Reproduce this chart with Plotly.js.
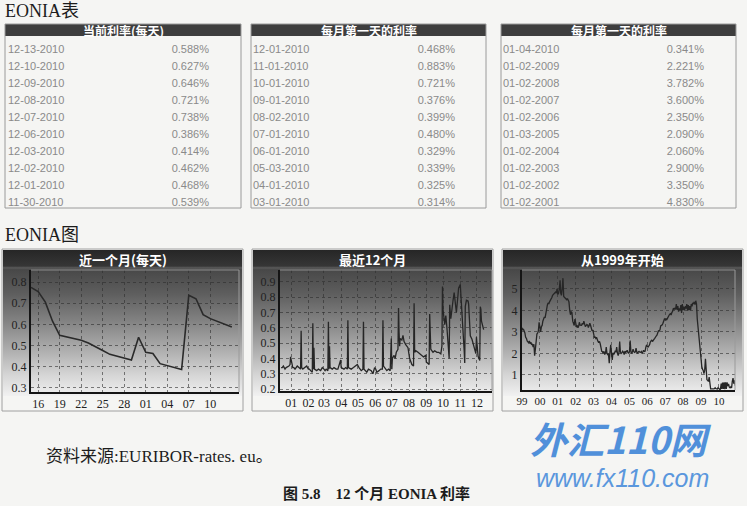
<!DOCTYPE html>
<html><head><meta charset="utf-8">
<script src="https://cdn.plot.ly/plotly-3.0.1.min.js"></script>
<style>html,body{margin:0;padding:0;background:#f5f5f3;}#chart{width:747px;height:506px;}</style>
</head><body><div id="chart"></div>
<script>
// ---------- table data ----------
const currentDates = ['12-13-2010','12-10-2010','12-09-2010','12-08-2010','12-07-2010','12-06-2010','12-03-2010','12-02-2010','12-01-2010','11-30-2010'];
const currentRates = [0.588,0.627,0.646,0.721,0.738,0.386,0.414,0.462,0.468,0.539];
const monthFirstDates = ['12-01-2010','11-01-2010','10-01-2010','09-01-2010','08-02-2010','07-01-2010','06-01-2010','05-03-2010','04-01-2010','03-01-2010'];
const monthFirstRates = [0.468,0.883,0.721,0.376,0.399,0.480,0.329,0.339,0.325,0.314];
const yearFirstDates = ['01-04-2010','01-02-2009','01-02-2008','01-02-2007','01-02-2006','01-03-2005','01-02-2004','01-02-2003','01-02-2002','01-02-2001'];
const yearFirstRates = [0.341,2.221,3.782,3.600,2.350,2.090,2.060,2.900,3.350,4.830];
const tableTitles = ['当前利率(每天)','每月第一天的利率','每月第一天的利率'];

// ---------- chart 1: last month (daily) ----------
const monthDates = ['2010-11-15','2010-11-16','2010-11-17','2010-11-18','2010-11-19','2010-11-22','2010-11-23','2010-11-24','2010-11-25','2010-11-26','2010-11-29','2010-11-30','2010-12-01','2010-12-02','2010-12-03','2010-12-06','2010-12-07','2010-12-08','2010-12-09','2010-12-10','2010-12-13'];
const monthRates = [0.775,0.755,0.705,0.615,0.548,0.525,0.512,0.492,0.476,0.458,0.431,0.539,0.468,0.462,0.414,0.386,0.738,0.721,0.646,0.627,0.588];
const monthTicks = ['2010-11-16','2010-11-19','2010-11-22','2010-11-25','2010-11-28','2010-12-01','2010-12-04','2010-12-07','2010-12-10'];

// ---------- chart 2: last 12 months ----------
const yearDates = [
'2009-12-14','2009-12-16','2009-12-18','2009-12-21','2009-12-23','2009-12-28','2009-12-30','2009-12-31',
'2010-01-04','2010-01-06','2010-01-08','2010-01-12','2010-01-15','2010-01-18','2010-01-19','2010-01-20','2010-01-22','2010-01-26','2010-01-29',
'2010-02-01','2010-02-03','2010-02-05','2010-02-08','2010-02-09','2010-02-10','2010-02-11','2010-02-12','2010-02-16','2010-02-19','2010-02-23','2010-02-26',
'2010-03-01','2010-03-03','2010-03-05','2010-03-08','2010-03-09','2010-03-10','2010-03-11','2010-03-12','2010-03-16','2010-03-19','2010-03-23','2010-03-26','2010-03-31',
'2010-04-01','2010-04-06','2010-04-09','2010-04-12','2010-04-13','2010-04-14','2010-04-19','2010-04-23','2010-04-27','2010-04-30',
'2010-05-03','2010-05-05','2010-05-07','2010-05-10','2010-05-11','2010-05-12','2010-05-17','2010-05-20','2010-05-25','2010-05-28','2010-05-31',
'2010-06-02','2010-06-04','2010-06-08','2010-06-11','2010-06-14','2010-06-15','2010-06-16','2010-06-18','2010-06-22','2010-06-25','2010-06-28','2010-06-30',
'2010-07-01','2010-07-02','2010-07-05','2010-07-07','2010-07-09','2010-07-12','2010-07-13','2010-07-14','2010-07-15','2010-07-16','2010-07-19','2010-07-21','2010-07-23','2010-07-26','2010-07-28','2010-07-30',
'2010-08-02','2010-08-04','2010-08-06','2010-08-09','2010-08-10','2010-08-11','2010-08-13','2010-08-17','2010-08-20','2010-08-24','2010-08-27','2010-08-31',
'2010-09-01','2010-09-03','2010-09-06','2010-09-07','2010-09-08','2010-09-09','2010-09-13','2010-09-16','2010-09-20','2010-09-23','2010-09-27','2010-09-29','2010-09-30',
'2010-10-01','2010-10-04','2010-10-06','2010-10-08','2010-10-11','2010-10-12','2010-10-13','2010-10-15','2010-10-19','2010-10-21','2010-10-25','2010-10-28','2010-10-29',
'2010-11-01','2010-11-03','2010-11-05','2010-11-08','2010-11-09','2010-11-10','2010-11-12','2010-11-15','2010-11-16','2010-11-17','2010-11-18','2010-11-19','2010-11-22','2010-11-23','2010-11-24','2010-11-25','2010-11-26','2010-11-29','2010-11-30',
'2010-12-01','2010-12-02','2010-12-03','2010-12-06','2010-12-07','2010-12-08','2010-12-09','2010-12-10','2010-12-13'];
const yearRates = [
0.34,0.34,0.35,0.33,0.34,0.35,0.36,0.41,
0.34,0.34,0.33,0.35,0.34,0.33,0.58,0.34,0.33,0.34,0.35,
0.33,0.33,0.32,0.31,0.63,0.33,0.47,0.33,0.32,0.33,0.32,0.34,
0.33,0.32,0.33,0.32,0.64,0.33,0.48,0.34,0.33,0.34,0.33,0.33,0.39,
0.34,0.33,0.34,0.33,0.65,0.34,0.33,0.34,0.35,0.36,
0.34,0.33,0.32,0.33,0.64,0.33,0.31,0.33,0.32,0.30,0.34,
0.33,0.31,0.32,0.33,0.33,0.65,0.35,0.34,0.32,0.33,0.32,0.53,
0.33,0.40,0.42,0.40,0.44,0.46,0.73,0.57,0.48,0.53,0.52,0.55,0.51,0.49,0.48,0.47,
0.399,0.38,0.36,0.35,0.76,0.44,0.45,0.44,0.43,0.42,0.41,0.42,
0.376,0.37,0.36,0.69,0.53,0.46,0.44,0.45,0.44,0.44,0.43,0.48,0.87,
0.721,0.62,0.68,0.60,0.45,0.40,0.75,0.66,0.78,0.83,0.70,0.82,0.86,
0.883,0.76,0.70,0.45,0.37,0.74,0.78,0.775,0.755,0.705,0.615,0.548,0.525,0.512,0.492,0.476,0.458,0.431,0.539,
0.468,0.462,0.414,0.386,0.738,0.721,0.646,0.627,0.588];

// ---------- chart 3: since 1999 (1st and 16th of each month) ----------
const longYears = [1999,2000,2001,2002,2003,2004,2005,2006,2007,2008,2009,2010];
const rates1999 = [3.19,3.10,3.12,3.05,2.95,2.75,2.70,2.58,2.55,2.50,2.58,2.45,2.52,2.40,2.44,2.30,2.43,1.90,2.20,2.60,2.90,2.95,3.05,3.45];
const rates2000 = [3.10,3.00,3.25,3.30,3.50,3.60,3.70,3.65,3.90,4.05,4.25,4.35,4.30,4.40,4.45,4.50,4.60,4.70,4.75,4.80,4.83,4.85,4.80,5.00];
const rates2001 = [4.75,4.80,5.00,5.40,4.80,4.70,5.05,5.50,4.65,4.60,4.55,4.50,4.50,4.55,4.45,4.40,4.00,3.80,3.95,3.90,3.50,3.40,3.30,3.60];
const rates2002 = [3.30,3.25,3.28,3.20,3.26,3.45,3.32,3.30,3.31,3.40,3.35,3.50,3.30,3.25,3.29,3.35,3.32,3.20,3.30,3.40,3.30,3.20,3.05,3.10];
const rates2003 = [2.80,2.75,2.76,2.70,2.75,2.60,2.56,2.50,2.56,2.45,2.21,2.10,2.08,2.00,2.10,1.95,2.02,2.30,2.01,1.95,1.97,1.55,2.06,2.40];
const rates2004 = [2.02,1.70,2.03,1.95,2.01,2.10,2.08,2.30,2.02,1.90,2.03,2.55,2.07,2.00,2.04,2.10,2.05,1.95,2.11,2.05,2.09,2.15,2.05,2.00];
const rates2005 = [2.08,2.60,2.06,2.00,2.06,2.20,2.08,2.05,2.07,2.25,2.06,2.00,2.07,2.10,2.06,2.05,2.09,2.00,2.07,2.15,2.09,2.10,2.28,2.40];
const rates2006 = [2.33,2.30,2.35,2.40,2.52,2.60,2.63,2.55,2.58,2.65,2.70,2.80,2.81,2.85,2.97,3.05,3.04,3.10,3.28,3.30,3.33,3.40,3.50,3.60];
const rates2007 = [3.56,3.60,3.57,3.65,3.69,3.80,3.82,3.85,3.79,3.90,3.96,4.10,4.06,4.10,4.05,4.30,4.03,4.20,3.94,4.10,4.02,4.25,3.88,4.30];
const rates2008 = [4.02,4.15,4.03,4.20,4.09,4.30,3.99,4.25,4.01,4.20,4.01,4.30,4.19,4.35,4.30,4.40,4.27,4.45,4.30,3.60,3.15,3.00,2.49,2.20];
const rates2009 = [1.81,1.40,1.26,1.20,1.06,1.20,1.75,0.80,0.78,0.75,0.70,0.90,0.36,0.35,0.35,0.34,0.36,0.35,0.36,0.40,0.36,0.34,0.35,0.41];
const rates2010 = [0.34,0.33,0.34,0.60,0.35,0.65,0.35,0.66,0.34,0.66,0.35,0.66,0.48,0.58,0.43,0.40,0.45,0.40,0.70,0.85,0.59,0.75,0.50,0.59];
const longRatesByYear = [rates1999,rates2000,rates2001,rates2002,rates2003,rates2004,rates2005,rates2006,rates2007,rates2008,rates2009,rates2010];

const longDates = [], longRates = [];
longYears.forEach((yr, i) => {
  for (let m = 0; m < 12; m++) {
    const mm = String(m + 1).padStart(2, '0');
    longDates.push(yr + '-' + mm + '-01'); longRates.push(longRatesByYear[i][2 * m]);
    longDates.push(yr + '-' + mm + '-16'); longRates.push(longRatesByYear[i][2 * m + 1]);
  }
});

// ---------- layout helpers ----------
const W = 747, H = 506;
const px = v => v / W;
const py = v => 1 - v / H;

const tableLefts = [5, 251, 501];
const tableRights = [241, 486, 736];
const tableTop = 24, tableBottom = 208, headerBottom = 36;

function tableTrace(dates, rates, left) {
  const x0 = Math.max(0, left - 6);
  return {
    type: 'table',
    domain: {x: [px(x0), px(left + 212)], y: [py(tableBottom), py(tableTop)]},
    columnwidth: [110, 108],
    header: {values: [[''], ['']], height: 13, fill: {color: 'rgba(0,0,0,0)'}, line: {color: 'rgba(0,0,0,0)', width: 0}},
    cells: {
      values: [dates, rates], format: ['', '.3f'], suffix: ['', '%'], align: ['left', 'right'], height: 17,
      fill: {color: 'rgba(0,0,0,0)'}, line: {color: 'rgba(0,0,0,0)', width: 0},
      font: {family: 'Liberation Sans, Arial, sans-serif', size: 11, color: '#8a8a8a'}
    }
  };
}

const panels = [[2, 243], [252, 493], [502, 743]];
const plots = [ // [left, right, top, bottom] in px
  [31, 239, 270, 392],
  [280, 492, 270, 391],
  [522, 735, 270, 390]
];
const chartTitles = ['近一个月(每天)', '最近12个月', '从1999年开始'];

const traces = [
  tableTrace(currentDates, currentRates, tableLefts[0]),
  tableTrace(monthFirstDates, monthFirstRates, tableLefts[1]),
  tableTrace(yearFirstDates, yearFirstRates, tableLefts[2]),
  {type: 'scatter', mode: 'lines', x: monthDates, y: monthRates, xaxis: 'x', yaxis: 'y', line: {color: '#2a2a2a', width: 1.6}, hoverinfo: 'skip'},
  {type: 'scatter', mode: 'lines', x: yearDates, y: yearRates, xaxis: 'x2', yaxis: 'y2', line: {color: '#262626', width: 1.3}, hoverinfo: 'skip'},
  {type: 'scatter', mode: 'lines', x: longDates, y: longRates, xaxis: 'x3', yaxis: 'y3', line: {color: '#262626', width: 1.3}, hoverinfo: 'skip'}
];

const axisFont = {family: 'Liberation Serif, DejaVu Serif, serif', size: 12, color: '#222'};
function baseAxis(domain, extra) {
  return Object.assign({
    domain: domain, showgrid: true, gridcolor: 'rgba(45,45,45,0.6)', griddash: 'dot', gridwidth: 1,
    showline: true, linecolor: '#151515', linewidth: 2, ticks: '', tickfont: axisFont,
    zeroline: false, fixedrange: true
  }, extra);
}
const xd = p => [px(p[0]), px(p[1])];
const yd = p => [py(p[3]), py(p[2])];

const layout = {
  width: W, height: H, margin: {l: 0, r: 0, t: 0, b: 0},
  paper_bgcolor: '#f5f5f3', plot_bgcolor: 'rgba(0,0,0,0)', showlegend: false,
  xaxis: baseAxis(xd(plots[0]), {type: 'date', anchor: 'y', range: ['2010-11-15', '2010-12-14'], tickvals: monthTicks, tickformat: '%d'}),
  yaxis: baseAxis(yd(plots[0]), {anchor: 'x', range: [0.28, 0.857], dtick: 0.1, tick0: 0, tickformat: '.1f'}),
  xaxis2: baseAxis(xd(plots[1]), {type: 'date', anchor: 'y2', range: ['2009-12-12', '2010-12-28'], dtick: 'M1', tick0: '2010-01-01', tickformat: '%m'}),
  yaxis2: baseAxis(yd(plots[1]), {anchor: 'x2', range: [0.187, 0.978], dtick: 0.1, tick0: 0, tickformat: '.1f'}),
  xaxis3: baseAxis(xd(plots[2]), {type: 'date', anchor: 'y3', range: ['1999-01-01', '2010-11-25'], dtick: 'M12', tick0: '1999-01-01', tickformat: '%y',
    tickfont: {family: 'Liberation Serif, DejaVu Serif, serif', size: 11, color: '#222'}}),
  yaxis3: baseAxis(yd(plots[2]), {anchor: 'x3', range: [0.3, 5.88], dtick: 1, tick0: 0, tickformat: 'd'}),
  images: [], shapes: [], annotations: []
};

// gradient backgrounds of the chart panels
const gradSvg = '<svg xmlns="http://www.w3.org/2000/svg" width="100" height="100" viewBox="0 0 100 100" preserveAspectRatio="none">' +
  '<defs><linearGradient id="g" x1="0" y1="0" x2="0" y2="1">' +
  '<stop offset="0" stop-color="#262626"/><stop offset="0.11" stop-color="#363636"/>' +
  '<stop offset="0.122" stop-color="#5a5a5a"/><stop offset="0.135" stop-color="#484848"/>' +
  '<stop offset="0.30" stop-color="#5e5e5e"/><stop offset="0.50" stop-color="#858585"/>' +
  '<stop offset="0.70" stop-color="#b1b1b1"/><stop offset="0.86" stop-color="#d6d6d6"/>' +
  '<stop offset="1" stop-color="#f1f1f1"/></linearGradient></defs>' +
  '<rect x="0" y="0" width="100" height="100" fill="url(#g)"/></svg>';
const gradSrc = 'data:image/svg+xml;charset=utf-8,' + encodeURIComponent(gradSvg);

panels.forEach((p, i) => {
  layout.images.push({source: gradSrc, xref: 'paper', yref: 'paper', x: px(p[0] + 1), y: py(250),
    sizex: px(p[1] - p[0] - 2), sizey: 146 / H, sizing: 'stretch', xanchor: 'left', yanchor: 'top', layer: 'below'});
  layout.shapes.push({type: 'rect', xref: 'paper', yref: 'paper', x0: px(p[0]), x1: px(p[1]), y0: py(411), y1: py(249),
    line: {color: '#a0a0a0', width: 1}, fillcolor: 'rgba(0,0,0,0)', layer: 'above'});
  const pl = plots[i];
  layout.shapes.push({type: 'line', xref: 'paper', yref: 'paper', x0: px(pl[0]), x1: px(pl[1]), y0: py(pl[2]), y1: py(pl[2]), line: {color: '#8c8c8c', width: 1}});
  layout.shapes.push({type: 'line', xref: 'paper', yref: 'paper', x0: px(pl[1]), x1: px(pl[1]), y0: py(pl[3]), y1: py(pl[2]), line: {color: '#9a9a9a', width: 1}});
  layout.annotations.push({text: '<b>' + chartTitles[i] + '</b>', xref: 'paper', yref: 'paper', x: px((p[0] + p[1]) / 2), y: py(259),
    xanchor: 'center', yanchor: 'middle', showarrow: false, font: {family: 'Noto Sans CJK SC, sans-serif', size: 13, color: '#ffffff'}});
});

// tables: frame, header band, header title
tableLefts.forEach((l, i) => {
  const r = tableRights[i];
  layout.shapes.push({type: 'rect', xref: 'paper', yref: 'paper', x0: px(l), x1: px(r), y0: py(headerBottom), y1: py(tableTop),
    line: {width: 0}, fillcolor: '#3e3e3e', layer: 'below'});
  layout.shapes.push({type: 'rect', xref: 'paper', yref: 'paper', x0: px(l), x1: px(r), y0: py(tableBottom), y1: py(tableTop),
    line: {color: '#9a9a9a', width: 1}, fillcolor: 'rgba(0,0,0,0)', layer: 'above'});
  layout.annotations.push({text: '<b>' + tableTitles[i] + '</b>', xref: 'paper', yref: 'paper', x: px((l + r) / 2), y: py(30.5),
    xanchor: 'center', yanchor: 'middle', showarrow: false, font: {family: 'Noto Sans CJK SC, sans-serif', size: 12, color: '#ffffff'}});
});

const serif = 'Liberation Serif, Noto Sans CJK SC, serif';
function note(text, x, y, size, anchor, extra) {
  layout.annotations.push(Object.assign({text: text, xref: 'paper', yref: 'paper', x: px(x), y: py(y), xanchor: anchor, yanchor: 'middle',
    showarrow: false, font: {family: serif, size: size, color: '#1c1c1c'}}, extra || {}));
}
note('EONIA表', 3, 11, 18, 'left');
note('EONIA图', 3, 235, 18, 'left');
note('资料来源:EURIBOR-rates. eu。', 44, 456, 17, 'left');
note('<b>图 5.8    12 个月 EONIA 利率</b>', 377, 493, 15, 'center');
// watermark (kept just below the chart panels)
note('<b>外汇110网</b>', 620, 438, 37, 'center', {font: {family: 'Noto Sans CJK SC, sans-serif', size: 37, color: '#3f86d8', style: 'italic'}, opacity: 0.9});
note('www.fx110.com', 622, 478, 25, 'center', {font: {family: 'Liberation Sans, Arial, sans-serif', size: 25, color: '#4a8ddb', style: 'italic'}, opacity: 0.9});

Plotly.newPlot('chart', traces, layout, {staticPlot: true, displayModeBar: false});
</script></body></html>
